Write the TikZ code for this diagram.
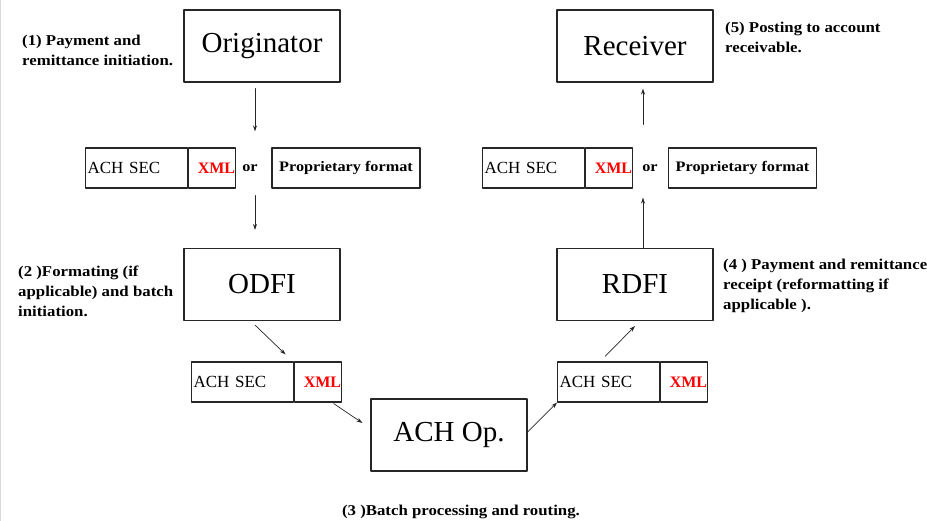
\documentclass[tikz,border=0pt]{standalone}
\usepackage{fontspec}
\setmainfont{Liberation Serif}
\newfontfamily\notefont{Liberation Serif}[FakeStretch=1.12]
\usetikzlibrary{arrows.meta,calc,positioning}

\begin{document}
\begin{tikzpicture}[x=1pt, y=-1pt, line cap=round, line join=round,
	bigbox/.style={draw=black!85, line width=1.1pt, minimum width=156pt, minimum height=72pt, inner sep=0pt, font=\fontsize{29}{31}\selectfont},
	secbox/.style={draw=black!85, line width=1.1pt, minimum height=40pt, text width=98pt, inner xsep=2pt, inner ysep=0pt, align=left, font=\fontsize{17}{19}\selectfont},
	xmlbox/.style={draw=black!85, line width=1.1pt, minimum height=40pt, text width=46pt, inner xsep=0.5pt, inner ysep=0pt, align=right, text=red, font=\bfseries\fontsize{16}{19}\selectfont},
	propbox/.style={draw=black!85, line width=1.1pt, minimum width=148pt, minimum height=40pt, inner sep=0pt, font=\notefont\bfseries\fontsize{14.5}{16}\selectfont},
	note/.style={inner sep=0pt, align=left, font=\notefont\bfseries\fontsize{15}{20}\selectfont},
	arr/.style={-{Stealth[length=6pt,width=4pt]}, line width=0.7pt, black!85}]
	
	% Khung hinh
	\useasboundingbox (0,0) rectangle (927,521);
	\draw[gray!30, line width=1pt] (0.5,0) -- (0.5,521);
	
	% Cac o chinh
	\node[bigbox] (orig) at (262,46) {Originator};
	\node[bigbox] (recv) at (635,46) {Receiver};
	\node[bigbox] (odfi) at (262,284.5) {ODFI};
	\node[bigbox] (rdfi) at (635,284.5) {RDFI};
	\node[bigbox] (achop) at (449,435) {ACH Op.};
	
	% Hang dinh dang ben trai
	\node[secbox, anchor=west] (lsec) at (85,168) {ACH SEC};
	\node[xmlbox, anchor=west] (lxml) at (lsec.east) {XML};
	\node[propbox] (lprop) at (346,168) {Proprietary format};
	\node[font=\notefont\bfseries\fontsize{14.5}{16}\selectfont] (lor) at (250,168) {or};
	
	% Hang dinh dang ben phai
	\node[secbox, anchor=west] (rsec) at (482,168) {ACH SEC};
	\node[xmlbox, anchor=west] (rxml) at (rsec.east) {XML};
	\node[propbox] (rprop) at (742.5,168) {Proprietary format};
	\node[font=\notefont\bfseries\fontsize{14.5}{16}\selectfont] (ror) at (650,168) {or};
	
	% Hai o ACH SEC o duoi
	\node[secbox, anchor=west] (osec) at (191,382) {ACH SEC};
	\node[xmlbox, anchor=west] (oxml) at (osec.east) {XML};
	\node[secbox, anchor=west] (ssec) at (557,382) {ACH SEC};
	\node[xmlbox, anchor=west] (sxml) at (ssec.east) {XML};
	
	% Duong giua cac hang
	\coordinate (lmid) at (255,168);
	\coordinate (rmid) at (643,168);
	
	% Cac mui ten
	\draw[arr, shorten <=6pt, shorten >=16pt] (orig.south -| lmid) -- (lsec.north -| lmid);
	\draw[arr, shorten <=7pt, shorten >=18pt] (lsec.south -| lmid) -- (odfi.north -| lmid);
	\draw[arr] ([xshift=-7pt,yshift=-4pt]odfi.south) -- ([xshift=43pt,yshift=7pt]osec.north);
	\draw[arr] ([xshift=15.5pt,yshift=-1pt]oxml.south) -- ([xshift=-8pt,yshift=12pt]achop.west);
	\draw[arr] ([yshift=3pt]achop.east) -- (ssec.south west);
	\draw[arr] ([xshift=-3.5pt,yshift=5pt]ssec.north) -- ([yshift=-5pt]rdfi.south);
	\draw[arr, shorten >=9pt] (rdfi.north -| rmid) -- (rsec.south -| rmid);
	\draw[arr, shorten <=23pt, shorten >=6pt] (rsec.north -| rmid) -- (recv.south -| rmid);
	
	% Ghi chu cac buoc
	\node[note, anchor=north west] (n1) at (22,35) {(1) Payment and\\remittance initiation.};
	\node[note, anchor=north west] (n2) at (18,266) {(2 )Formating (if\\applicable) and batch\\initiation.};
	\node[note, anchor=base] (n3) at (461,515) {(3 )Batch processing and routing.};
	\node[note, anchor=north west] (n4) at (723,259) {(4 ) Payment and remittance\\receipt (reformatting if\\applicable ).};
	\node[note, anchor=north west] (n5) at (725,22) {(5) Posting to account\\receivable.};
\end{tikzpicture}
\end{document}
